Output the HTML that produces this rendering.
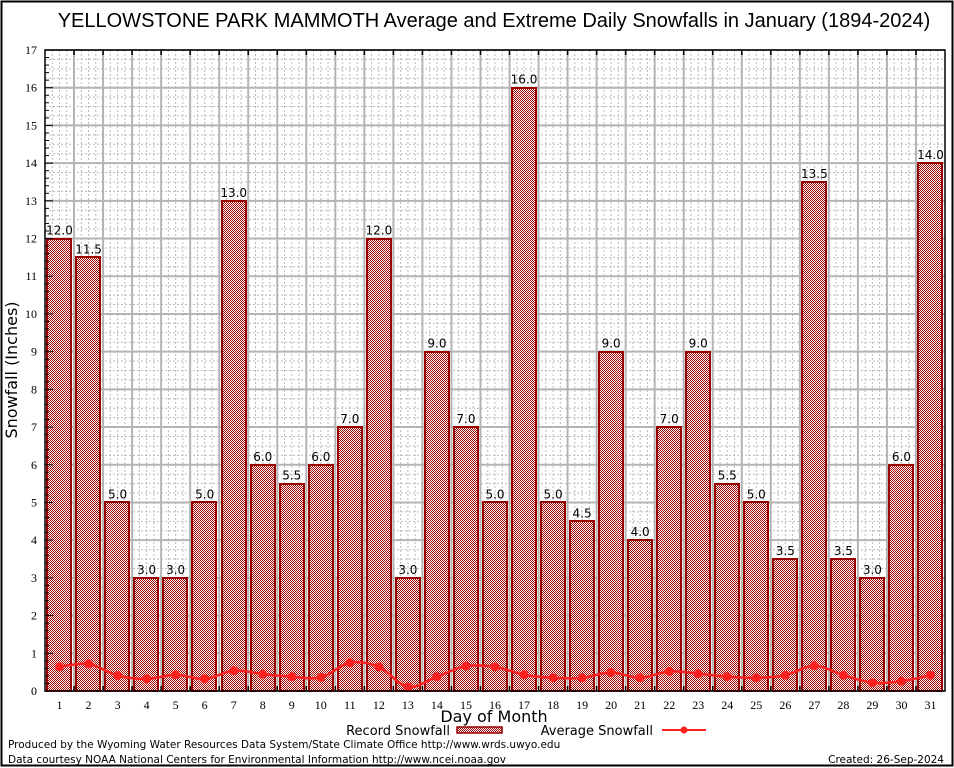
<!DOCTYPE html>
<html><head><meta charset="utf-8"><style>
body{margin:0;background:#fff;}
svg{display:block;font-family:"DejaVu Sans","Liberation Sans",sans-serif;}
</style></head><body>
<svg id="chart" width="954" height="768" viewBox="0 0 954 768">
<defs>
<pattern id="chk" width="2" height="2" patternUnits="userSpaceOnUse">
<rect width="2" height="2" fill="#fff" shape-rendering="crispEdges"/><rect width="1" height="1" fill="#a00000" shape-rendering="crispEdges"/><rect x="1" y="1" width="1" height="1" fill="#a00000" shape-rendering="crispEdges"/>
</pattern>
</defs>
<rect x="1.5" y="1.5" width="951" height="764" fill="#fff" stroke="#000" stroke-width="2"/>
<text x="494" y="27" font-size="20" text-anchor="middle" font-family="Liberation Sans, sans-serif">YELLOWSTONE PARK MAMMOTH Average and Extreme Daily Snowfalls in January (1894-2024)</text>
<g id="grid"></g>
<g id="bars"></g>
<g id="avg"></g>
<g id="axes"></g>
<text x="17" y="370" font-size="16" text-anchor="middle" transform="rotate(-90 17 370)">Snowfall (Inches)</text>
<text x="494" y="722" font-size="16" text-anchor="middle">Day of Month</text>
<g>
<text x="450" y="735" font-size="13" text-anchor="end">Record Snowfall</text>
<rect x="457" y="727" width="45" height="6" fill="url(#chk)" stroke="#990000" stroke-width="1.5"/>
<text x="653" y="735" font-size="13" text-anchor="end">Average Snowfall</text>
<line x1="662" y1="730" x2="706" y2="730" stroke="#ff2020" stroke-width="2"/>
<circle cx="684" cy="730" r="3.5" fill="#ff2020"/>
</g>
<text x="8" y="748" font-size="10.5">Produced by the Wyoming Water Resources Data System/State Climate Office http://www.wrds.uwyo.edu</text>
<text x="8" y="763" font-size="10.5">Data courtesy NOAA National Centers for Environmental Information http://www.ncei.noaa.gov</text>
<text x="944" y="763" font-size="10.5" text-anchor="end">Created: 26-Sep-2024</text>
</svg>
<script>
const days = [1,2,3,4,5,6,7,8,9,10,11,12,13,14,15,16,17,18,19,20,21,22,23,24,25,26,27,28,29,30,31];
const recordValues = [12,11.5,5,3,3,5,13,6,5.5,6,7,12,3,9,7,5,16,5,4.5,9,4,7,9,5.5,5,3.5,13.5,3.5,3,6,14];
const averageValues = [0.64,0.72,0.41,0.32,0.43,0.32,0.54,0.45,0.38,0.36,0.75,0.64,0.11,0.38,0.66,0.64,0.43,0.35,0.35,0.49,0.35,0.52,0.46,0.38,0.35,0.42,0.67,0.42,0.22,0.26,0.42];
const yTicks = [0,1,2,3,4,5,6,7,8,9,10,11,12,13,14,15,16,17];

const L=45,R=945,T=50,B=691,YMAX=17;
const NS="http://www.w3.org/2000/svg";
const dw=(R-L)/days.length;
function x(d){return L+(d-0.5)*dw;}
function y(v){return B-(v/YMAX)*(B-T);}
function mk(tag,attrs,parent){const e=document.createElementNS(NS,tag);for(const k in attrs)e.setAttribute(k,attrs[k]);parent.appendChild(e);return e;}
const grid=document.getElementById('grid'),bars=document.getElementById('bars'),avg=document.getElementById('avg'),axes=document.getElementById('axes');

for(let v=0;v<YMAX;v+=0.25){if(Math.abs(v-Math.round(v))<1e-6)continue;
 const l=mk('line',{x1:L,x2:R,y1:y(v),y2:y(v),stroke:'#bbb','stroke-width':1,'stroke-dasharray':'2,2'},grid);
 
 }
for(let i=0;i<days.length;i++){for(let f=0.25;f<1;f+=0.25){const xx=L+(i+f)*dw;
 const l=mk('line',{x1:xx,x2:xx,y1:T,y2:B,stroke:'#bbb','stroke-width':1,'stroke-dasharray':'2,2'},grid);
 
 }}
yTicks.forEach(v=>{const l=mk('line',{x1:L,x2:R,y1:y(v),y2:y(v),stroke:'#b4b4b4','stroke-width':2},grid);
 
 });
for(let i=1;i<days.length;i++){const xx=L+i*dw;const l=mk('line',{x1:xx,x2:xx,y1:T,y2:B,stroke:'#b4b4b4','stroke-width':2},grid);
 
 }

days.forEach((d,i)=>{const v=recordValues[i];const bw=dw*0.84;
 const r=mk('rect',{x:Math.round(x(d)-bw/2),y:Math.round(y(v)),width:Math.round(bw),height:B-Math.round(y(v)),fill:'url(#chk)',stroke:'#990000','stroke-width':2},bars);
 
 
 const t=mk('text',{x:x(d),y:y(v)-4,'font-size':12,'text-anchor':'middle'},bars);
 t.textContent=v.toFixed(1);
 
 });

const pts=days.map((d,i)=>[x(d),y(averageValues[i])]);
let dstr='M'+pts[0][0]+','+pts[0][1];
for(let i=0;i<pts.length-1;i++){const p0=pts[Math.max(0,i-1)],p1=pts[i],p2=pts[i+1],p3=pts[Math.min(pts.length-1,i+2)];
 dstr+=' C'+(p1[0]+(p2[0]-p0[0])/6)+','+(p1[1]+(p2[1]-p0[1])/6)+' '+(p2[0]-(p3[0]-p1[0])/6)+','+(p2[1]-(p3[1]-p1[1])/6)+' '+p2[0]+','+p2[1];}
const path=mk('path',{d:dstr,fill:'none',stroke:'#ff2020','stroke-width':2.5},avg);


pts.forEach((p,i)=>{const c=mk('circle',{cx:p[0],cy:p[1],r:4.5,fill:'#ff2020'},avg);
 
 });

const fr=mk('rect',{x:L,y:T,width:R-L,height:B-T,fill:'none',stroke:'#000','stroke-width':1.5},axes);


for(let v=0;v<=YMAX+1e-6;v+=0.2){const major=Math.abs(v-Math.round(v))<1e-6;
 const l=mk('line',{x1:L,x2:L+(major?8:4),y1:y(v),y2:y(v),stroke:'#000','stroke-width':1},axes);
 
 }
yTicks.forEach(v=>{const t=mk('text',{x:L-8,y:y(v)+4,'font-size':12,'text-anchor':'end','font-family':'Liberation Serif, serif'},axes);
 t.textContent=v;
 
 });
for(let i=1;i<days.length;i++){const xx=L+i*dw;
 const a=mk('line',{x1:xx,x2:xx,y1:B,y2:B-5,stroke:'#000','stroke-width':1.5},axes);
 
 
 const b=mk('line',{x1:xx,x2:xx,y1:T,y2:T+5,stroke:'#000','stroke-width':1.5},axes);
 
 }
days.forEach(d=>{const t=mk('text',{x:x(d),y:B+18,'font-size':12,'text-anchor':'middle','font-family':'Liberation Serif, serif'},axes);
 t.textContent=d;
 
 });
</script>
</body></html>
